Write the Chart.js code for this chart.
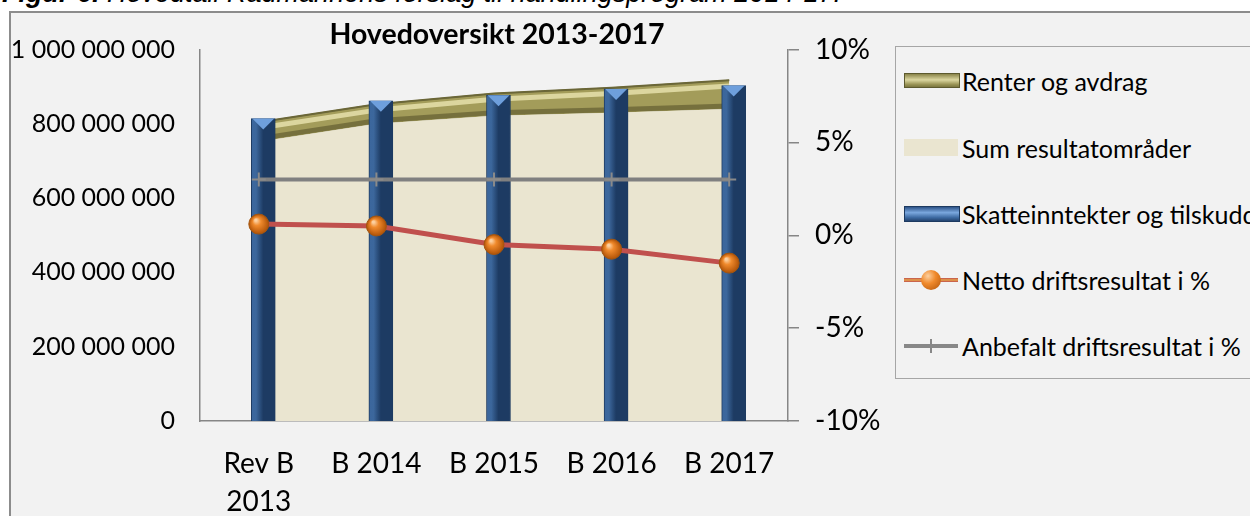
<!DOCTYPE html>
<html lang="no">
<head>
    <meta charset="UTF-8">
    <title>Hovedoversikt 2013-2017</title>
    <script src="https://cdn.jsdelivr.net/npm/chart.js"></script>
    <style>
        html, body { margin: 0; padding: 0; background: #fff; overflow: hidden; }
        body { width: 1250px; height: 516px; position: relative; font-family: Lato, sans-serif; }
        .caption {
            position: absolute; left: 2px; top: -20px; white-space: nowrap;
            font: italic 27px/27px "Liberation Sans", Arial, sans-serif; color: #000;
        }
        .frame {
            position: absolute; left: 9px; top: 11px; width: 1300px; height: 600px;
            border: 2px solid #8c8c8c; background: #f2f2f2;
        }
        #chart { position: absolute; left: 0; top: 0; }
        .legend {
            position: absolute; left: 895px; top: 46px; width: 400px; height: 331px;
            border: 1.5px solid #a6a6a6; background: #f2f2f2;
        }
        .item { position: absolute; left: 0; height: 40px; white-space: nowrap; }
        .item .ico { position: absolute; left: 8px; width: 54px; }
        .item .txt { position: absolute; left: 66px; top: 0; line-height: 40px; font-size: 25px; color: #000; }
    </style>
</head>
<body>
    <div class="caption"><b>Figur 6.</b> Hovedtall Rådmannens forslag til handlingsprogram 2014-17.</div>
    <div class="frame"></div>
    <canvas id="chart" width="1250" height="516"></canvas>
    <div class="legend" id="legend"></div>

    <script>
        // Data
        const categories = [['Rev B', '2013'], 'B 2014', 'B 2015', 'B 2016', 'B 2017'];
        const sumResultatomrader = [752e6, 800e6, 822e6, 830e6, 840e6];
        const renterOgAvdrag = [53e6, 53e6, 60e6, 68e6, 78e6];
        const skatteinntekter = [814e6, 862e6, 877e6, 894e6, 903e6];
        const nettoDrift = [0.6, 0.5, -0.5, -0.75, -1.5];
        const anbefaltDrift = [3, 3, 3, 3, 3];
        const leftTicks = [0, 2e8, 4e8, 6e8, 8e8, 1e9];
        const rightTicks = [-10, -5, 0, 5, 10];

        const FONT = 'Lato';
        const barShift = 0.064; // bars sit a little left of the category centre

        const spaced = v => String(v).replace(/\B(?=(\d{3})+(?!\d))/g, ' ');

        // blue bevel on the columns
        function barFill(c) {
            const s = c.chart.scales.xb;
            if (!s || c.type !== 'data') return '#3b6598';
            const x = s.getPixelForValue(c.dataIndex);
            if (!isFinite(x)) return '#3b6598';
            const g = c.chart.ctx.createLinearGradient(x - 12, 0, x + 12, 0);
            g.addColorStop(0, '#21436f');
            g.addColorStop(0.25, '#3a669f');
            g.addColorStop(0.7, '#3c679c');
            g.addColorStop(1, '#1d3b63');
            return g;
        }

        // orange spheres
        function ballFill(c) {
            const ch = c.chart;
            if (c.type !== 'data' || !ch.scales.y1) return '#e8761c';
            const x = ch.scales.x.getPixelForValue(c.dataIndex);
            const y = ch.scales.y1.getPixelForValue(nettoDrift[c.dataIndex]);
            if (!isFinite(x) || !isFinite(y)) return '#e8761c';
            const g = ch.ctx.createRadialGradient(x - 3, y - 4, 1, x, y, 10);
            g.addColorStop(0, '#fcd0a0');
            g.addColorStop(0.35, '#f08a2c');
            g.addColorStop(1, '#b05206');
            return g;
        }

        function strokeAlong(ctx, pts, dy, color, width) {
            ctx.beginPath();
            pts.forEach((p, i) => i ? ctx.lineTo(p.x, p.y + dy) : ctx.moveTo(p.x, p.y + dy));
            ctx.strokeStyle = color;
            ctx.lineWidth = width;
            ctx.stroke();
        }

        // bevel look: light tops on columns, highlight/shadow on the olive band
        const bevels = {
            id: 'bevels',
            afterDatasetDraw(chart, args) {
                const ctx = chart.ctx;
                const ds = chart.data.datasets[args.index];
                ctx.save();
                if (args.meta.type === 'bar') {
                    args.meta.data.forEach(el => {
                        const w = el.width;
                        ctx.beginPath();
                        ctx.moveTo(el.x - w / 2 + 1, el.y);
                        ctx.lineTo(el.x + w / 2 - 1, el.y);
                        ctx.lineTo(el.x, el.y + 11);
                        ctx.closePath();
                        ctx.fillStyle = '#6e9fdc';
                        ctx.fill();
                    });
                } else if (ds.label === 'Renter og avdrag') {
                    const top = args.meta.data;
                    const bottom = chart.getDatasetMeta(0).data;
                    ctx.lineJoin = 'round';
                    strokeAlong(ctx, bottom, -3, 'rgba(110,104,56,0.85)', 5);
                    strokeAlong(ctx, bottom, 1, 'rgba(120,115,80,0.35)', 2);
                    strokeAlong(ctx, top, 6, 'rgba(226,221,166,0.9)', 5);
                    strokeAlong(ctx, top, 0.5, '#6b6738', 1.5);
                }
                ctx.restore();
            }
        };

        const chart = new Chart(document.getElementById('chart'), {
            data: {
                labels: categories,
                datasets: [
                    {
                        type: 'line', label: 'Sum resultatområder', data: sumResultatomrader,
                        yAxisID: 'y', xAxisID: 'x', fill: 'origin', backgroundColor: '#eae5d0',
                        borderWidth: 0, pointRadius: 0, tension: 0, order: 5
                    },
                    {
                        type: 'line', label: 'Renter og avdrag', data: renterOgAvdrag,
                        yAxisID: 'y', xAxisID: 'x', fill: '-1', backgroundColor: '#a39c5a',
                        borderColor: '#6b6738', borderWidth: 1.5, pointRadius: 0, tension: 0, order: 5
                    },
                    {
                        type: 'bar', label: 'Skatteinntekter og tilskudd',
                        data: skatteinntekter.map((v, i) => ({ x: i, y: v })),
                        yAxisID: 'y', xAxisID: 'xb', backgroundColor: barFill,
                        borderColor: '#1d3a60', borderWidth: 1, barThickness: 24, order: 3
                    },
                    {
                        type: 'line', label: 'Anbefalt driftsresultat i %', data: anbefaltDrift,
                        yAxisID: 'y1', xAxisID: 'x', borderColor: '#808080', borderWidth: 4,
                        pointStyle: 'cross', pointRadius: 7, pointBorderColor: '#8a8a8a',
                        pointBorderWidth: 2, fill: false, order: 2
                    },
                    {
                        type: 'line', label: 'Netto driftsresultat i %', data: nettoDrift,
                        yAxisID: 'y1', xAxisID: 'x', borderColor: '#c0504d', borderWidth: 5,
                        pointRadius: 10, pointBackgroundColor: ballFill, pointBorderColor: '#a4560f',
                        pointBorderWidth: 1, fill: false, order: 1
                    }
                ]
            },
            options: {
                responsive: false,
                animation: false,
                layout: { padding: { top: 21, left: 0, right: 256, bottom: 0 } },
                plugins: {
                    legend: { display: false },
                    tooltip: { enabled: false },
                    title: {
                        display: true, text: 'Hovedoversikt 2013-2017', color: '#000',
                        font: { family: FONT, size: 28.5, weight: 'bold', lineHeight: 1 },
                        padding: { top: 0, bottom: 0 }
                    }
                },
                scales: {
                    x: {
                        type: 'category', offset: true,
                        grid: { display: false },
                        border: { display: true, color: '#868686', width: 1.5 },
                        ticks: { color: '#000', font: { family: FONT, size: 28, lineHeight: 1.36 }, padding: 16, maxRotation: 0, autoSkip: false },
                        afterFit: s => { s.height = 95; }
                    },
                    xb: {
                        type: 'linear', display: false, offset: false,
                        min: -0.5 + barShift, max: 4.5 + barShift
                    },
                    y: {
                        type: 'linear', position: 'left', stacked: true,
                        min: 0, max: 1e9,
                        grid: { display: false },
                        border: { display: true, color: '#868686', width: 1.5 },
                        afterBuildTicks: s => { s.ticks = leftTicks.map(v => ({ value: v })); },
                        ticks: { color: '#000', font: { family: FONT, size: 25 }, padding: 17, callback: v => spaced(v) },
                        afterFit: s => { s.width = 200; }
                    },
                    y1: {
                        type: 'linear', position: 'right',
                        min: -10, max: 10,
                        grid: { display: true, drawOnChartArea: false, drawTicks: true, tickLength: 11, color: '#868686', lineWidth: 1.5 },
                        border: { display: true, color: '#868686', width: 1.5 },
                        afterBuildTicks: s => { s.ticks = rightTicks.map(v => ({ value: v })); },
                        ticks: { color: '#000', font: { family: FONT, size: 28 }, padding: 16, callback: v => v + '%' },
                        afterFit: s => { s.width = 206; }
                    }
                }
            },
            plugins: [bevels]
        });
        chart.update();

        // Legend, built from the chart's datasets
        const legendOrder = ['Renter og avdrag', 'Sum resultatområder', 'Skatteinntekter og tilskudd',
            'Netto driftsresultat i %', 'Anbefalt driftsresultat i %'];
        const icons = {
            'Renter og avdrag': '<div class="ico" style="top:12px;height:13px;border:1px solid #5d5a2e;background:linear-gradient(#8a8449,#dcd7a0 45%,#9a9455 80%,#7c7740);"></div>',
            'Sum resultatområder': '<div class="ico" style="top:11px;height:17px;background:#eae5d0;"></div>',
            'Skatteinntekter og tilskudd': '<div class="ico" style="top:12px;height:14px;border:1px solid #1d3a60;background:linear-gradient(#2d5388,#7aa7de 40%,#3d6aa2 75%,#24446f);"></div>',
            'Netto driftsresultat i %': '<div class="ico" style="top:18px;height:4px;background:linear-gradient(#c0504d,#e7a54a,#c0504d);"></div>' +
                '<div style="position:absolute;left:25px;top:10px;width:20px;height:20px;border-radius:50%;background:radial-gradient(circle at 35% 30%,#fcd0a0,#f08a2c 40%,#b05206);"></div>',
            'Anbefalt driftsresultat i %': '<div class="ico" style="top:18px;height:4px;background:#888;"></div>' +
                '<div style="position:absolute;left:34px;top:13px;width:2px;height:14px;background:#888;"></div>'
        };
        const legendTops = [60, 127, 193, 259, 325];
        const box = document.getElementById('legend');
        legendOrder.forEach((name, i) => {
            const ds = chart.data.datasets.find(d => d.label === name);
            const el = document.createElement('div');
            el.className = 'item';
            el.style.top = (legendTops[i] - 46) + 'px';
            el.innerHTML = icons[name] + '<span class="txt">' + ds.label + '</span>';
            box.appendChild(el);
        });
    </script>
</body>
</html>
